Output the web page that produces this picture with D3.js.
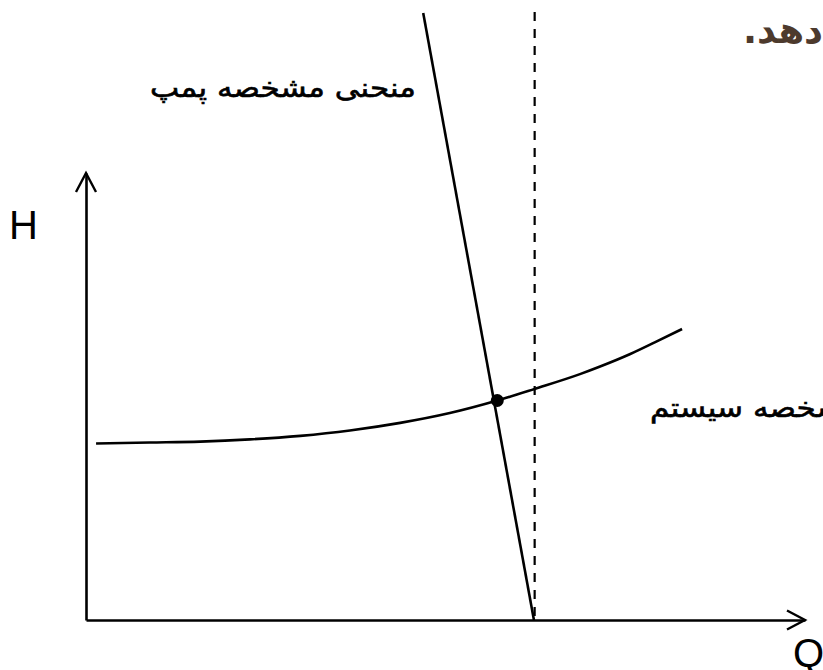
<!DOCTYPE html>
<html>
<head>
<meta charset="utf-8">
<script src="https://cdn.jsdelivr.net/npm/d3@7"></script>
<style>
  html, body { margin: 0; padding: 0; background: #fff; overflow: hidden; }
  svg { display: block; }
</style>
</head>
<body>
<svg id="chart" width="823" height="670"></svg>
<script>
// values (arbitrary units, Q 0..10, H 0..10)
var systemQ = [0.14, 0.89, 1.59, 2.28, 2.98, 3.67, 4.37, 5.06, 5.72, 6.24, 6.87, 7.15, 7.57, 7.91, 8.29];
var systemH = [3.95, 3.97, 3.99, 4.04, 4.12, 4.24, 4.41, 4.63, 4.91, 5.17, 5.50, 5.67, 5.95, 6.21, 6.51];
var pumpQ = [4.69, 6.23];
var pumpH = [13.58, 0];
var operatingQ = [5.72];
var operatingH = [4.91];
var maxFlowQ = [6.24, 6.24];
var maxFlowH = [13.6, 0];
var axisNames = ['H', 'Q'];
var pumpLabel = 'منحنی مشخصه پمپ';
var systemLabel = 'منحنی مشخصه سیستم';
var captionText = 'را نشان می‌دهد.';

var svg = d3.select('#chart');
var margin_left = 86;
var x_end = 805;
var y_bottom = 620;
var y_top = 173;

var x = d3.scaleLinear().domain([0, 10]).range([margin_left, x_end]);
var y = d3.scaleLinear().domain([0, 10]).range([y_bottom, y_top]);

var zip = function(qs, hs) {
    return qs.map(function(q, i) { return {q: q, h: hs[i]}; });
};

// axes without ticks, just the domain line
var xAxis = d3.axisBottom(x).ticks(0).tickSizeOuter(0);
var yAxis = d3.axisLeft(y).ticks(0).tickSizeOuter(0);
svg.append('g').attr('transform', 'translate(0,' + y_bottom + ')').call(xAxis)
    .call(function(g) { g.select('.domain').attr('stroke', '#000').attr('stroke-width', 2.6); });
svg.append('g').attr('transform', 'translate(' + margin_left + ',0)').call(yAxis)
    .call(function(g) { g.select('.domain').attr('stroke', '#000').attr('stroke-width', 2.6); });

// open arrow heads at the ends of the axes
var arrow = d3.line();
svg.append('path')
    .attr('d', arrow([[x(10) - 18, y(0) - 9.5], [x(10), y(0)], [x(10) - 18, y(0) + 9.5]]))
    .attr('fill', 'none').attr('stroke', '#000').attr('stroke-width', 2.4);
svg.append('path')
    .attr('d', arrow([[x(0) - 10, y(10) + 19], [x(0), y(10)], [x(0) + 10, y(10) + 19]]))
    .attr('fill', 'none').attr('stroke', '#000').attr('stroke-width', 2.4);

var line_func = d3.line().x(function(d) { return x(d.q); }).y(function(d) { return y(d.h); });

// dashed max flow line
svg.append('path')
    .attr('d', line_func(zip(maxFlowQ, maxFlowH)))
    .attr('fill', 'none').attr('stroke', '#000').attr('stroke-width', 2.2)
    .attr('stroke-dasharray', '9,8');

// system curve
svg.append('path')
    .attr('d', line_func.curve(d3.curveMonotoneX)(zip(systemQ, systemH)))
    .attr('fill', 'none').attr('stroke', '#000').attr('stroke-width', 2.6);

// pump curve
svg.append('path')
    .attr('d', line_func.curve(d3.curveLinear)(zip(pumpQ, pumpH)))
    .attr('fill', 'none').attr('stroke', '#000').attr('stroke-width', 2.6);

// operating point
svg.selectAll('circle.op').data(zip(operatingQ, operatingH)).enter().append('circle')
    .attr('class', 'op')
    .attr('cx', function(d) { return x(d.q); })
    .attr('cy', function(d) { return y(d.h); })
    .attr('r', 6.5)
    .attr('fill', '#000');

// axis names
svg.append('text').text(axisNames[0])
    .attr('x', 9).attr('y', 239)
    .attr('font-family', 'Liberation Sans, Arial, sans-serif').attr('font-size', 40);
svg.append('text').text(axisNames[1])
    .attr('x', 793).attr('y', 667)
    .attr('font-family', 'Liberation Sans, Arial, sans-serif').attr('font-size', 40);

// persian labels (rtl, anchored at their left edge)
var pump_t = svg.append('text').text(pumpLabel)
    .attr('x', 150).attr('y', 97)
    .attr('direction', 'rtl').attr('text-anchor', 'end')
    .attr('stroke', '#000').attr('stroke-width', 0.6)
    .attr('font-family', 'DejaVu Sans, sans-serif').attr('font-size', 27);
var sys_t = svg.append('text').text(systemLabel)
    .attr('x', 650).attr('y', 417)
    .attr('direction', 'rtl').attr('text-anchor', 'end')
    .attr('stroke', '#000').attr('stroke-width', 0.6)
    .attr('font-family', 'DejaVu Sans, sans-serif').attr('font-size', 27);
// the reference font is wider than DejaVu, stretch both labels by the same factor
var stretch = 266 / pump_t.node().getComputedTextLength();
pump_t.attr('textLength', 266).attr('lengthAdjust', 'spacingAndGlyphs')
    .attr('x', 150 + 266);
var sys_w = sys_t.node().getComputedTextLength() * stretch;
sys_t.attr('textLength', sys_w).attr('lengthAdjust', 'spacingAndGlyphs')
    .attr('x', 650 + sys_w);
pump_t.attr('text-anchor', 'start');
sys_t.attr('text-anchor', 'start');

svg.append('text').text(captionText)
    .attr('x', 743).attr('y', 43)
    .attr('direction', 'rtl').attr('text-anchor', 'end')
    .attr('fill', '#4d3a2d').attr('font-weight', 'bold')
    .attr('font-family', 'DejaVu Sans, sans-serif').attr('font-size', 37);
</script>
</body>
</html>
